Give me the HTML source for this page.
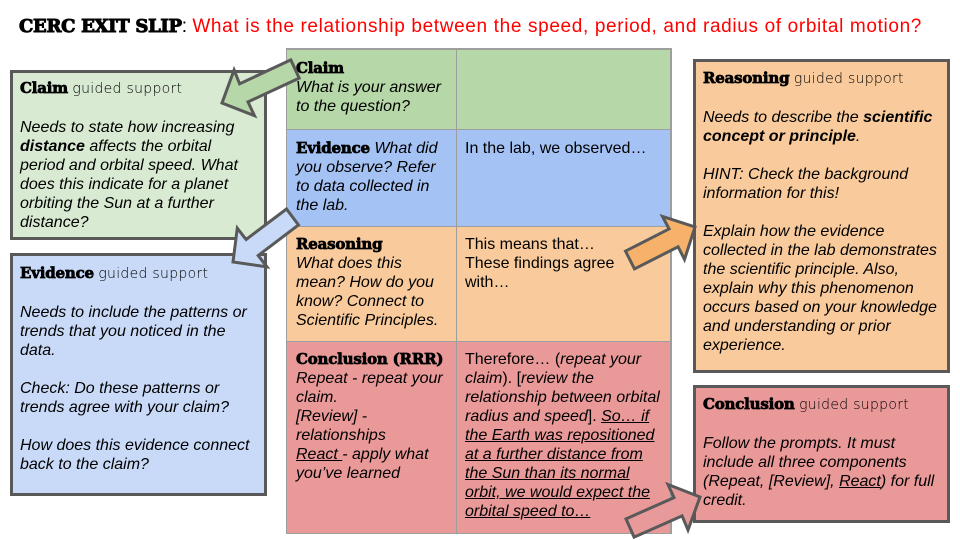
<!DOCTYPE html>
<html><head><meta charset="utf-8"><style>
*{margin:0;padding:0;box-sizing:border-box}
body{width:960px;height:540px;background:#fff;position:relative;overflow:hidden;font-family:"Liberation Sans",Arial,sans-serif;color:#000}
.abs{position:absolute}
.t{position:absolute;font-size:16px;line-height:19px;white-space:nowrap;font-style:italic}
.n{font-style:normal}
.slab{font-family:"DejaVu Serif","Liberation Serif",serif;font-weight:bold;font-style:normal;font-size:15px;letter-spacing:-0.2px;-webkit-text-stroke:0.75px #000}
.gs{font-family:"DejaVu Sans",sans-serif;font-weight:200;font-style:normal;font-size:14px;letter-spacing:0.3px;-webkit-text-stroke:0}
.box{position:absolute;border:3px solid #595959}
.cell{position:absolute}
.hl{position:absolute;background:#9e9e9e}
</style></head><body>

<div class="abs" style="left:19px;top:16px;line-height:22px;white-space:nowrap;font-size:19px">
<span style="font-family:'DejaVu Serif','Liberation Serif',serif;font-weight:bold;font-size:18px;letter-spacing:-0.3px;-webkit-text-stroke:1px #000">CERC EXIT SLIP</span><span>: </span><span style="color:#ff0000;letter-spacing:0.65px">What is the relationship between the speed, period, and radius of orbital motion?</span>
</div>

<!-- table -->
<div class="cell" style="left:286px;top:49px;width:385px;height:80px;background:#b6d7a8"></div>
<div class="cell" style="left:286px;top:129px;width:385px;height:97px;background:#a4c2f4"></div>
<div class="cell" style="left:286px;top:226px;width:385px;height:115px;background:#f9cb9c"></div>
<div class="cell" style="left:286px;top:341px;width:385px;height:192px;background:#ea9999"></div>
<div class="hl" style="left:286px;top:48px;width:385px;height:1.5px"></div>
<div class="hl" style="left:286px;top:129px;width:385px;height:1px"></div>
<div class="hl" style="left:286px;top:225.5px;width:385px;height:1px"></div>
<div class="hl" style="left:286px;top:340.5px;width:385px;height:1px"></div>
<div class="hl" style="left:286px;top:532.5px;width:385px;height:1.5px"></div>
<div class="hl" style="left:285.5px;top:48px;width:1.5px;height:486px"></div>
<div class="hl" style="left:455.5px;top:48px;width:1px;height:486px"></div>
<div class="hl" style="left:670px;top:48px;width:1.5px;height:486px"></div>

<div class="t" style="left:296px;top:58.5px"><span class="slab">Claim</span><br>What is your answer<br>to the question?</div>
<div class="t" style="left:296px;top:138.5px"><span class="slab">Evidence</span> What did<br>you observe? Refer<br>to data collected in<br>the lab.</div>
<div class="t n" style="left:465px;top:138.5px">In the lab, we observed…</div>
<div class="t" style="left:296px;top:234.5px"><span class="slab">Reasoning</span><br>What does this<br>mean? How do you<br>know? Connect to<br>Scientific Principles.</div>
<div class="t n" style="left:465px;top:234.5px">This means that…<br>These findings agree<br>with…</div>
<div class="t" style="left:296px;top:349.5px"><span class="slab">Conclusion (RRR)</span><br>Repeat - repeat your<br>claim.<br>[Review] -<br>relationships<br><u>React </u>- apply what<br>you’ve learned</div>
<div class="t n" style="left:465px;top:349.5px">Therefore… (<i>repeat your</i><br><i>claim</i>). [<i>review the</i><br><i>relationship between orbital</i><br><i>radius and speed</i>]. <i><u>So… if</u></i><br><i><u>the Earth was repositioned</u></i><br><i><u>at a further distance from</u></i><br><i><u>the Sun than its normal</u></i><br><i><u>orbit, we would expect the</u></i><br><i><u>orbital speed to…</u></i></div>

<!-- guided boxes -->
<div class="box" style="left:10px;top:70px;width:257px;height:170px;background:#d9ead3"></div>
<div class="t" style="left:20px;top:78.5px"><span class="slab">Claim</span> <span class="gs">guided support</span><br><br>Needs to state how increasing<br><b>distance</b> affects the orbital<br>period and orbital speed. What<br>does this indicate for a planet<br>orbiting the Sun at a further<br>distance?</div>

<div class="box" style="left:10px;top:253px;width:257px;height:243px;background:#c9daf8"></div>
<div class="t" style="left:20px;top:263.5px"><span class="slab">Evidence</span> <span class="gs">guided support</span><br><br>Needs to include the patterns or<br>trends that you noticed in the<br>data.<br><br>Check: Do these patterns or<br>trends agree with your claim?<br><br>How does this evidence connect<br>back to the claim?</div>

<div class="box" style="left:693px;top:59px;width:257px;height:314px;background:#f9cb9c"></div>
<div class="t" style="left:703px;top:68.5px"><span class="slab">Reasoning</span> <span class="gs">guided support</span><br><br>Needs to describe the <b>scientific</b><br><b>concept or principle</b>.<br><br>HINT: Check the background<br>information for this!<br><br>Explain how the evidence<br>collected in the lab demonstrates<br>the scientific principle. Also,<br>explain why this phenomenon<br>occurs based on your knowledge<br>and understanding or prior<br>experience.</div>

<div class="box" style="left:693px;top:385px;width:257px;height:138px;background:#ea9999"></div>
<div class="t" style="left:703px;top:394.5px"><span class="slab">Conclusion</span> <span class="gs">guided support</span><br><br>Follow the prompts. It must<br>include all three components<br>(Repeat, [Review], <u>React</u>) for full<br>credit.</div>

<!-- arrows -->
<svg class="abs" style="left:0;top:0" width="960" height="540" viewBox="0 0 960 540">
<g stroke="#595959" stroke-width="3" stroke-linejoin="miter">
<polygon fill="#b6d7a8" points="290.8,59.9 239.6,83.8 234.1,70.0 222,103 254.5,115.7 248.0,101.9 299.2,78.1"/>
<polygon fill="#c9daf8" points="286.5,209.0 246.1,239.5 237.3,228.2 233,262 267.0,266.9 258.2,255.5 298.5,225.0"/>
<polygon fill="#f6b26b" points="634.5,268.9 678.1,246.8 684.5,259.4 695,227 662.5,216.4 669.1,228.9 625.5,251.1"/>
<polygon fill="#e8999a" points="634.1,537.1 682.1,515.9 688.0,530.0 700,497 668.0,484.5 674.0,497.6 626.0,518.9"/>
</g>
</svg>
</body></html>
